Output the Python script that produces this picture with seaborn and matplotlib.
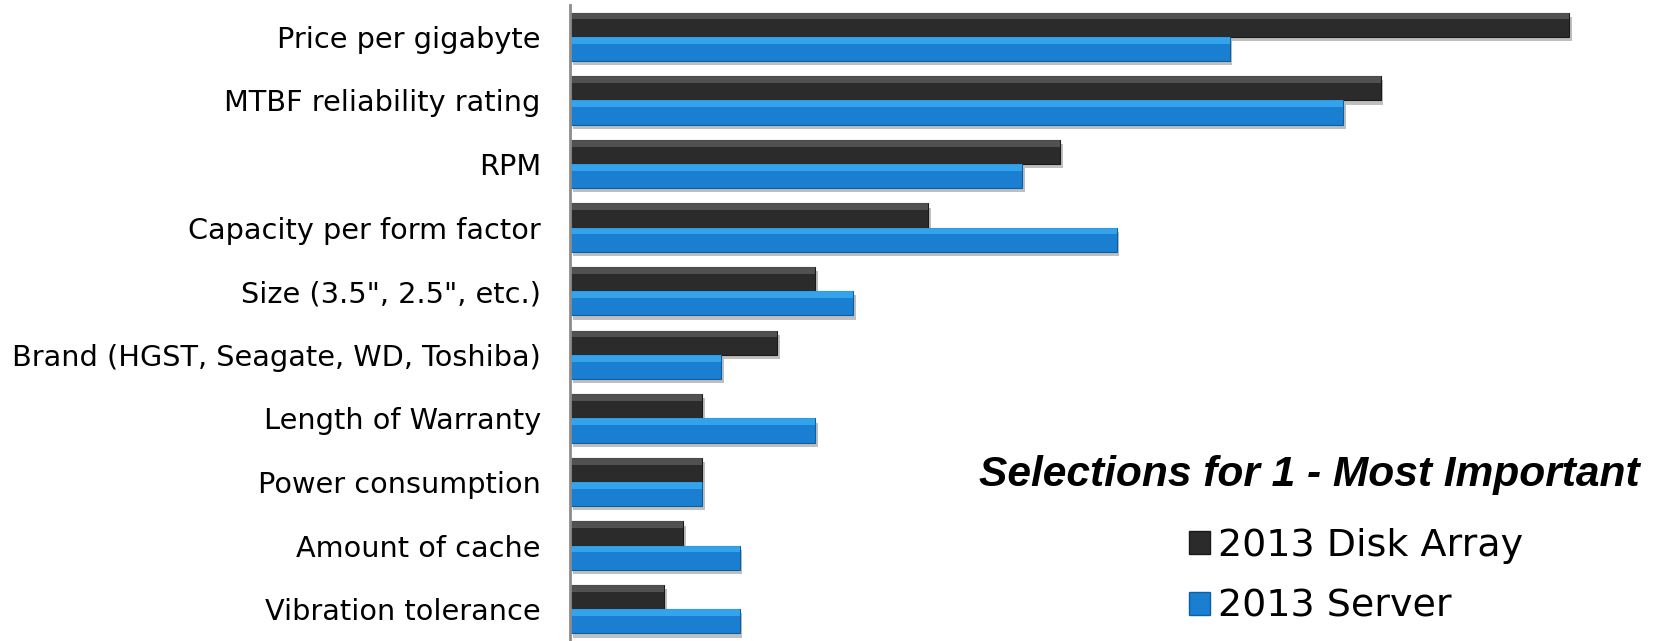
import matplotlib
matplotlib.use("Agg")
import matplotlib.pyplot as plt
import matplotlib.patheffects as pe
from matplotlib.patches import Rectangle, Patch
import seaborn as sns
import pandas as pd

categories = [
    "Price per gigabyte",
    "MTBF reliability rating",
    "RPM",
    "Capacity per form factor",
    'Size (3.5", 2.5", etc.)',
    "Brand (HGST, Seagate, WD, Toshiba)",
    "Length of Warranty",
    "Power consumption",
    "Amount of cache",
    "Vibration tolerance",
]
series_names = ["2013 Disk Array", "2013 Server"]
disk_array = [53, 43, 26, 19, 13, 11, 7, 7, 6, 5]
server = [35, 41, 24, 29, 15, 8, 13, 7, 9, 9]
title_text = "Selections for 1 - Most Important"

colors = {"2013 Disk Array": "#2b2b2b", "2013 Server": "#1a7fd0"}
highlight = {"2013 Disk Array": "#5e5e5e", "2013 Server": "#3cb0f5"}
edges = {"2013 Disk Array": "#1a1a1a", "2013 Server": "#0b5fa5"}

df = pd.DataFrame({
    "category": categories * 2,
    "series": [series_names[0]] * len(categories) + [series_names[1]] * len(categories),
    "value": disk_array + server,
})

sns.set_theme(style="white")
plt.rcParams["font.family"] = ["DejaVu Sans"]
plt.rcParams["text.color"] = "#000000"

W, H = 1656, 641
fig = plt.figure(figsize=(W / 100, H / 100), dpi=100)
ax = fig.add_axes([570 / W, 0.0, 1 - 570 / W, 1 - 5 / H])

sns.barplot(data=df, y="category", x="value", hue="series", order=categories,
            hue_order=series_names, palette=colors, orient="h", width=0.76,
            ax=ax, legend=False, saturation=1)

for container, name in zip(ax.containers, series_names):
    for p in container:
        p.set_edgecolor(edges[name])
        p.set_linewidth(0.8)
        p.set_path_effects([pe.SimplePatchShadow(offset=(2, -3), alpha=0.25, shadow_rgbFace="#000000"),
                            pe.Normal()])
        x, y, w, h = p.get_x(), p.get_y(), p.get_width(), p.get_height()
        ax.add_patch(Rectangle((x, y), w, h * 0.28, facecolor=highlight[name],
                               edgecolor="none", alpha=0.75, zorder=p.get_zorder() + 0.1))

ax.set_xlim(0, (W - 570) / ((1569 - 570) / 53))
ax.set_ylim(9.5, -0.5)
ax.set_xlabel("")
ax.set_ylabel("")
ax.set_xticks([])
for s in ["top", "right", "bottom"]:
    ax.spines[s].set_visible(False)
ax.spines["left"].set_color("#8c8c8c")
ax.spines["left"].set_linewidth(2)
ax.tick_params(axis="y", length=0, pad=21, labelsize=20.7, labelcolor="#000000")

fig.text(1640 / W, 1 - 475 / H, title_text, ha="right", va="center",
         fontsize=30.6, fontweight="bold", fontstyle="italic",
         family=["Liberation Sans", "DejaVu Sans"], color="#000000")

handles = [Patch(facecolor=colors[n], edgecolor=edges[n]) for n in series_names]
leg = fig.legend(handles, series_names, loc="upper left",
                 bbox_to_anchor=(1189 / W, 1 - 528 / H), frameon=False,
                 fontsize=27.4, handlelength=0.55, handleheight=0.55,
                 handletextpad=0.2, labelspacing=0.65, borderaxespad=0, borderpad=0,
                 labelcolor="#000000")

fig.savefig("out.png", dpi=100)
